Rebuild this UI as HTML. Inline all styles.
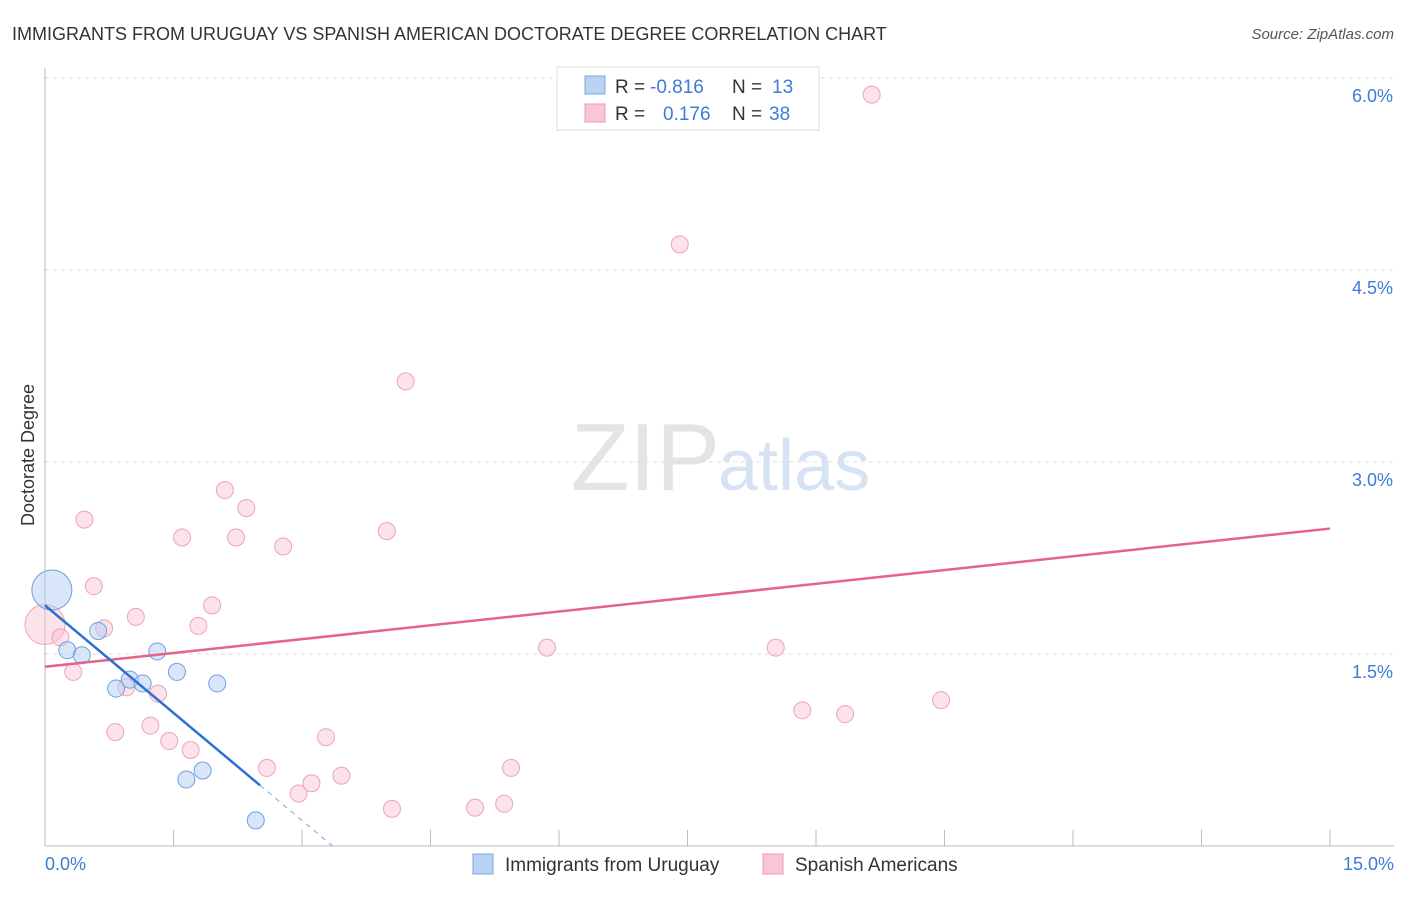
<!DOCTYPE html>
<html><head><meta charset="utf-8"><style>
body{margin:0;background:#fff;font-family:"Liberation Sans",sans-serif}
svg text{font-family:"Liberation Sans",sans-serif}
</style></head><body>
<svg id="chart" width="1406" height="892">
<text x="12" y="40" font-size="18" fill="#333">IMMIGRANTS FROM URUGUAY VS SPANISH AMERICAN DOCTORATE DEGREE CORRELATION CHART</text>
<text x="1394" y="39" font-size="15" fill="#555" font-style="italic" text-anchor="end">Source: ZipAtlas.com</text>
<text x="720" y="490" font-size="96" fill="#e4e4e4" font-family="Liberation Serif" text-anchor="end">ZIP</text>
<text x="718" y="490" font-size="72" fill="#d6e3f5">atlas</text>
<text transform="translate(34,455) rotate(-90)" font-size="18" fill="#333" text-anchor="middle">Doctorate Degree</text>
<g id="grid"></g><g id="marks"></g>
<g>
<rect x="557" y="67" width="262" height="63" fill="#fff" stroke="#ddd"/>
<rect x="585" y="76" width="20" height="18" fill="#b9d3f5" stroke="#7aa6e0"/>
<rect x="585" y="104" width="20" height="18" fill="#f9c6d5" stroke="#ef9ab3"/>
<text x="615" y="93" font-size="19" fill="#333">R =</text><text x="650" y="93" font-size="19" fill="#3d7bd9">-0.816</text>
<text x="732" y="93" font-size="19" fill="#333">N =</text><text x="772" y="93" font-size="19" fill="#3d7bd9">13</text>
<text x="615" y="120" font-size="19" fill="#333">R =</text><text x="663" y="120" font-size="19" fill="#3d7bd9">0.176</text>
<text x="732" y="120" font-size="19" fill="#333">N =</text><text x="769" y="120" font-size="19" fill="#3d7bd9">38</text>
</g>
<g>
<rect x="473" y="854" width="20" height="20" fill="#b9d3f5" stroke="#7aa6e0"/>
<text x="505" y="871" font-size="19" fill="#333">Immigrants from Uruguay</text>
<rect x="763" y="854" width="20" height="20" fill="#f9c6d5" stroke="#ef9ab3"/>
<text x="795" y="871" font-size="19" fill="#333">Spanish Americans</text>
</g>
</svg>
<script>
const xTicks=[0,15];
const yTicks=[1.5,3.0,4.5,6.0];
const blueX=[0.08,0.62,0.26,0.43,1.31,0.83,0.99,1.14,1.54,2.01,1.65,1.84,2.46];
const blueY=[2.0,1.68,1.53,1.49,1.52,1.23,1.30,1.27,1.36,1.27,0.52,0.59,0.20];
const blueBig=[true,false,false,false,false,false,false,false,false,false,false,false,false];
const pinkX=[9.65,7.41,4.21,0.46,2.10,2.35,1.60,2.23,2.78,3.99,0.57,1.95,1.06,0.0,0.69,1.79,0.18,0.33,0.95,1.32,0.82,1.23,1.45,1.70,5.86,8.53,8.84,9.34,10.46,2.59,3.28,3.11,2.96,3.46,4.05,5.02,5.36,5.44];
const pinkY=[5.87,4.70,3.63,2.55,2.78,2.64,2.41,2.41,2.34,2.46,2.03,1.88,1.79,1.73,1.70,1.72,1.63,1.36,1.24,1.19,0.89,0.94,0.82,0.75,1.55,1.55,1.06,1.03,1.14,0.61,0.85,0.49,0.41,0.55,0.29,0.30,0.33,0.61];
const blueTrend=[1.88,-0.56];
const pinkTrend=[1.40,0.072];
const X=v=>45+v/15*1285, Y=v=>846-v*128;
const NS="http://www.w3.org/2000/svg";
function mk(t,a,p){const e=document.createElementNS(NS,t);for(const k in a)e.setAttribute(k,a[k]);p.appendChild(e);return e;}
const g=document.getElementById('grid'), m=document.getElementById('marks');
yTicks.forEach(t=>{
 const l=mk('line',{x1:45,x2:1394,y1:Y(t),y2:Y(t),stroke:'#ddd','stroke-dasharray':'4,4'},g);
 
 
 const tx=mk('text',{x:1393,y:Y(t)+24,'font-size':18,fill:'#3d7bd9','text-anchor':'end'},g);
 tx.textContent=t.toFixed(1)+'%';
 
 
});
const ax=mk('line',{x1:45,x2:1394,y1:846,y2:846,stroke:'#bbb'},g);


const ay=mk('line',{x1:45,x2:45,y1:68,y2:846,stroke:'#bbb'},g);


for(let i=1;i<=10;i++){const v=i*1.5;const t=mk('line',{x1:X(v),x2:X(v),y1:830,y2:846,stroke:'#bbb'},g);
 
 }
xTicks.forEach((t,i)=>{const tx=mk('text',{x:i?1394:45,y:870,'font-size':18,fill:'#3d7bd9','text-anchor':i?'end':'start'},g);
 tx.textContent=t.toFixed(1)+'%';
 
 });
pinkX.forEach((x,i)=>{const c=mk('circle',{cx:X(x),cy:Y(pinkY[i]),r:(i==13?20:8.5),fill:'rgba(248,190,207,0.45)',stroke:'#eea3b9','stroke-width':1},m);
 
 });
blueX.forEach((x,i)=>{const c=mk('circle',{cx:X(x),cy:Y(blueY[i]),r:(blueBig[i]?20:8.5),fill:'rgba(180,206,244,0.5)',stroke:'#6f9fe0','stroke-width':1},m);
 
 });
const pl=mk('line',{x1:X(0),y1:Y(pinkTrend[0]),x2:X(15),y2:Y(pinkTrend[0]+pinkTrend[1]*15),stroke:'#e4628e','stroke-width':2.5},m);


const xe=2.51, xz=-blueTrend[0]/blueTrend[1];
const bl=mk('line',{x1:X(0),y1:Y(blueTrend[0]),x2:X(xe),y2:Y(blueTrend[0]+blueTrend[1]*xe),stroke:'#2e6fd6','stroke-width':2.5},m);


const bd=mk('line',{x1:X(xe),y1:Y(blueTrend[0]+blueTrend[1]*xe),x2:X(xz),y2:Y(0),stroke:'#8fb0e6','stroke-width':1.2,'stroke-dasharray':'5,5'},m);


</script>
</body></html>
